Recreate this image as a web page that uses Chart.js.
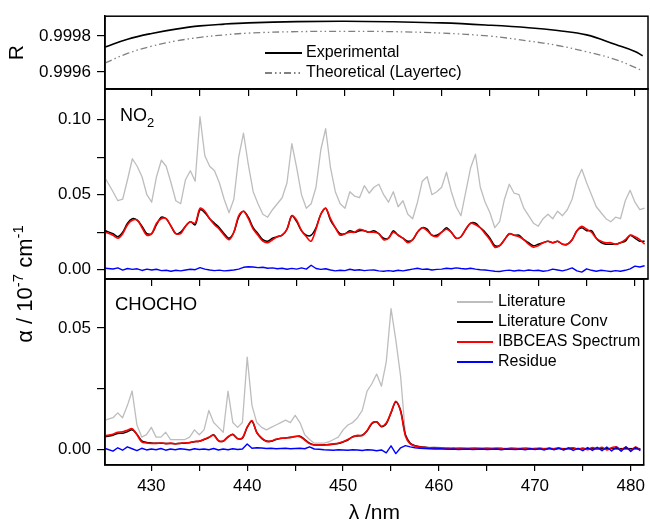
<!DOCTYPE html>
<html>
<head>
<meta charset="utf-8">
<script src="https://cdn.jsdelivr.net/npm/chart.js@4.4.1/dist/chart.umd.min.js"></script>
<style>
  html, body { margin: 0; padding: 0; background: #fff; }
  #wrap { position: relative; width: 650px; height: 529px; }
  #wrap canvas { position: absolute; left: 0; top: 0; }
</style>
</head>
<body>
<div id="wrap">
  <canvas id="cGly" width="650" height="529"></canvas>
  <canvas id="cNO2" width="650" height="529"></canvas>
  <canvas id="cR" width="650" height="529"></canvas>
</div>
<script>
const FONT = "'Liberation Sans', Arial, sans-serif";

// ---- data ----
const wavelength = [
  425.2, 426, 426.5, 427, 427.5, 428, 428.5, 429, 429.5, 430,
  430.5, 431, 431.5, 432, 432.5, 433, 433.5, 434, 434.5, 435,
  435.5, 436, 436.5, 437, 437.5, 438, 438.5, 439, 439.5, 440,
  440.5, 441, 441.5, 442, 442.5, 443, 443.5, 444, 444.5, 445,
  445.5, 446, 446.5, 447, 447.5, 448, 448.5, 449, 449.5, 450,
  450.5, 451, 451.5, 452, 452.5, 453, 453.5, 454, 454.5, 455,
  455.5, 456, 456.5, 457, 457.5, 458, 458.5, 459, 459.5, 460,
  460.5, 461, 461.5, 462, 462.5, 463, 463.5, 464, 464.5, 465,
  465.5, 466, 466.5, 467, 467.5, 468, 468.5, 469, 469.5, 470,
  470.5, 471, 471.5, 472, 472.5, 473, 473.5, 474, 474.5, 475,
  475.5, 476, 476.5, 477, 477.5, 478, 478.5, 479, 479.5, 480,
  480.5, 481
];

// mirror reflectivity
const rWavelength = [425.2, 427.5, 430, 432.5, 435, 437.5, 440, 445, 450, 455, 460, 465, 469, 472, 475, 478, 480, 480.8];
const rExperimental = [0.999739, 0.999782, 0.999814, 0.999838, 0.999856, 0.999866, 0.999873, 0.999880, 0.999882, 0.999879,
                       0.999873, 0.999860, 0.999846, 0.999830, 0.999806, 0.999752, 0.999714, 0.999690];
const rTheoretical = [0.999650, 0.999703, 0.999743, 0.999772, 0.999792, 0.999806, 0.999816, 0.999824, 0.999826, 0.999824,
                      0.999816, 0.999799, 0.999772, 0.999747, 0.999712, 0.999669, 0.999625, 0.999605];

// NO2 panel
const no2Literature = [
  0.061, 0.052, 0.046, 0.047, 0.060, 0.074, 0.069, 0.062, 0.050, 0.045,
  0.062, 0.073, 0.069, 0.058, 0.046, 0.044, 0.060, 0.066, 0.059, 0.102,
  0.076, 0.069, 0.066, 0.058, 0.047, 0.038, 0.047, 0.075, 0.091, 0.070,
  0.052, 0.044, 0.037, 0.035, 0.040, 0.044, 0.048, 0.058, 0.084, 0.068,
  0.050, 0.041, 0.044, 0.055, 0.080, 0.094, 0.068, 0.052, 0.044, 0.041,
  0.052, 0.049, 0.048, 0.056, 0.051, 0.055, 0.057, 0.050, 0.045, 0.052,
  0.042, 0.046, 0.037, 0.034, 0.045, 0.059, 0.062, 0.050, 0.052, 0.055,
  0.065, 0.052, 0.042, 0.036, 0.052, 0.068, 0.077, 0.055, 0.045, 0.038,
  0.028, 0.032, 0.047, 0.057, 0.051, 0.050, 0.041, 0.036, 0.031, 0.029,
  0.034, 0.037, 0.034, 0.039, 0.036, 0.040, 0.047, 0.060, 0.067, 0.058,
  0.050, 0.042, 0.038, 0.034, 0.032, 0.035, 0.034, 0.046, 0.053, 0.045,
  0.040, 0.041
];
const no2LiteratureConv = [
  0.026, 0.024, 0.022, 0.025, 0.031, 0.034, 0.033, 0.029, 0.024, 0.024,
  0.030, 0.035, 0.034, 0.029, 0.024, 0.025, 0.029, 0.032, 0.030, 0.040,
  0.038, 0.034, 0.031, 0.028, 0.024, 0.021, 0.025, 0.035, 0.039, 0.035,
  0.028, 0.024, 0.020, 0.019, 0.021, 0.022, 0.023, 0.027, 0.036, 0.032,
  0.026, 0.023, 0.023, 0.028, 0.037, 0.041, 0.033, 0.028, 0.024, 0.024,
  0.026, 0.025, 0.026, 0.026, 0.025, 0.026, 0.024, 0.021, 0.021, 0.026,
  0.023, 0.021, 0.019, 0.020, 0.025, 0.028, 0.027, 0.023, 0.023, 0.025,
  0.028, 0.025, 0.021, 0.022, 0.027, 0.031, 0.031, 0.028, 0.025, 0.021,
  0.016, 0.016, 0.020, 0.024, 0.023, 0.023, 0.020, 0.018, 0.016, 0.017,
  0.018, 0.019, 0.018, 0.019, 0.017, 0.017, 0.020, 0.026, 0.028, 0.026,
  0.026, 0.021, 0.018, 0.017, 0.017, 0.017, 0.018, 0.019, 0.023, 0.021,
  0.019, 0.019
];
const no2Ibbceas = [
  0.025, 0.023, 0.021, 0.024, 0.030, 0.033, 0.033, 0.028, 0.023, 0.024,
  0.031, 0.034, 0.034, 0.029, 0.024, 0.024, 0.029, 0.032, 0.031, 0.041,
  0.039, 0.034, 0.030, 0.027, 0.023, 0.020, 0.025, 0.036, 0.039, 0.034,
  0.027, 0.023, 0.019, 0.018, 0.020, 0.022, 0.023, 0.027, 0.036, 0.033,
  0.026, 0.022, 0.019, 0.027, 0.037, 0.041, 0.034, 0.028, 0.023, 0.024,
  0.025, 0.025, 0.027, 0.026, 0.025, 0.025, 0.024, 0.020, 0.021, 0.025,
  0.023, 0.021, 0.018, 0.020, 0.025, 0.028, 0.026, 0.023, 0.022, 0.025,
  0.027, 0.025, 0.021, 0.022, 0.027, 0.031, 0.030, 0.028, 0.024, 0.020,
  0.015, 0.016, 0.020, 0.024, 0.023, 0.022, 0.020, 0.017, 0.015, 0.016,
  0.018, 0.019, 0.018, 0.019, 0.017, 0.017, 0.020, 0.026, 0.029, 0.027,
  0.025, 0.021, 0.019, 0.018, 0.018, 0.017, 0.018, 0.020, 0.023, 0.022,
  0.020, 0.017
];
const no2Residue = [
  0.0010, 0.0005, 0.0012, -0.0003, 0.0008, 0.0002, 0.0006, -0.0005, 0.0004, -0.0002,
  0.0003, -0.0006, -0.0004, -0.0010, -0.0004, -0.0008, -0.0002, 0.0003, 0.0000, 0.0014,
  0.0004, -0.0002, -0.0006, -0.0003, -0.0008, -0.0005, -0.0002, 0.0004, 0.0016, 0.0020,
  0.0018, 0.0014, 0.0016, 0.0010, 0.0012, 0.0006, 0.0010, 0.0003, 0.0009, 0.0004,
  0.0012, 0.0004, 0.0030, 0.0008, 0.0002, 0.0006, -0.0002, -0.0008, -0.0004, -0.0006,
  0.0003, -0.0004, 0.0000, -0.0006, -0.0003, -0.0002, -0.0008, -0.0010, -0.0006, -0.0010,
  -0.0004, -0.0008, -0.0002, 0.0004, 0.0010, 0.0002, 0.0005, -0.0002, 0.0002, 0.0004,
  0.0010, 0.0006, 0.0012, 0.0008, 0.0005, 0.0010, 0.0004, 0.0000, -0.0002, -0.0006,
  -0.0010, -0.0012, -0.0006, -0.0003, -0.0009, -0.0004, -0.0008, -0.0002, -0.0006, -0.0004,
  -0.0010, -0.0006, 0.0004, -0.0002, -0.0008, 0.0001, 0.0012, -0.0008, -0.0016, 0.0006,
  -0.0004, -0.0010, -0.0004, -0.0008, -0.0012, -0.0006, -0.0010, -0.0004, 0.0006, 0.0024,
  0.0018, 0.0026
];

// CHOCHO panel
const glyLiterature = [
  0.012, 0.013, 0.015, 0.013, 0.018, 0.024, 0.010, 0.005, 0.006, 0.009,
  0.005, 0.005, 0.007, 0.004, 0.004, 0.004, 0.004, 0.005, 0.008, 0.006,
  0.008, 0.016, 0.011, 0.009, 0.007, 0.024, 0.011, 0.009, 0.011, 0.038,
  0.018, 0.011, 0.009, 0.008, 0.009, 0.010, 0.011, 0.012, 0.011, 0.014,
  0.011, 0.006, 0.004, 0.0025, 0.0025, 0.0025, 0.003, 0.004, 0.005, 0.008,
  0.010, 0.011, 0.013, 0.016, 0.024, 0.027, 0.031, 0.026, 0.036, 0.058,
  0.045, 0.030, 0.006, 0.0025, 0.0015, 0.0012, 0.0010, 0.0008, 0.0010, 0.0008,
  0.0006, 0.0004, 0.0005, 0.0003, 0.0005, 0.0004, 0.0003, 0.0005, 0.0004, 0.0003,
  0.0004, 0.0003, 0.0005, 0.0004, 0.0003, 0.0004, 0.0003, 0.0004, 0.0003, 0.0004,
  0.0003, 0.0004, 0.0003, 0.0003, 0.0004, 0.0003, 0.0004, 0.0003, 0.0003, 0.0004,
  0.0003, 0.0003, 0.0004, 0.0003, 0.0003, 0.0004, 0.0003, 0.0003, 0.0004, 0.0003,
  0.0003, 0.0003
];
const glyLiteratureConv = [
  0.0052, 0.0058, 0.0065, 0.0066, 0.0072, 0.0080, 0.0062, 0.0035, 0.0028, 0.0026,
  0.0025, 0.0025, 0.0024, 0.0024, 0.0023, 0.0024, 0.0025, 0.0028, 0.0031, 0.0033,
  0.0040, 0.0048, 0.0060, 0.0036, 0.0033, 0.0050, 0.0062, 0.0044, 0.0045, 0.0090,
  0.0115, 0.0070, 0.0045, 0.0034, 0.0033, 0.0040, 0.0045, 0.0046, 0.0049, 0.0052,
  0.0054, 0.0040, 0.0025, 0.0018, 0.0017, 0.0018, 0.0019, 0.0021, 0.0024, 0.0030,
  0.0038, 0.0052, 0.0055, 0.0058, 0.0075, 0.0105, 0.0113, 0.0093, 0.0105, 0.0150,
  0.0196, 0.0160, 0.0060, 0.0025, 0.0015, 0.0010, 0.0008, 0.0006, 0.0005, 0.0004,
  0.0004, 0.0003, 0.0004, 0.0003, 0.0003, 0.0003, 0.0003, 0.0003, 0.0003, 0.0003,
  0.0003, 0.0003, 0.0003, 0.0002, 0.0003, 0.0003, 0.0002, 0.0003, 0.0003, 0.0002,
  0.0003, 0.0002, 0.0003, 0.0002, 0.0003, 0.0002, 0.0002, 0.0003, 0.0002, 0.0002,
  0.0002, 0.0003, 0.0002, 0.0002, 0.0002, 0.0003, 0.0002, 0.0002, 0.0002, 0.0002,
  0.0002, 0.0002
];
const glyIbbceas = [
  0.0055, 0.0062, 0.0070, 0.0072, 0.0078, 0.0085, 0.0060, 0.0030, 0.0026, 0.0024,
  0.0024, 0.0026, 0.0023, 0.0025, 0.0022, 0.0025, 0.0026, 0.0027, 0.0032, 0.0033,
  0.0041, 0.0049, 0.0058, 0.0035, 0.0034, 0.0052, 0.0060, 0.0043, 0.0047, 0.0092,
  0.0118, 0.0068, 0.0047, 0.0032, 0.0034, 0.0041, 0.0044, 0.0047, 0.0048, 0.0053,
  0.0052, 0.0038, 0.0023, 0.0017, 0.0018, 0.0017, 0.0020, 0.0022, 0.0025, 0.0031,
  0.0040, 0.0050, 0.0057, 0.0056, 0.0077, 0.0108, 0.0112, 0.0095, 0.0108, 0.0152,
  0.0198, 0.0155, 0.0055, 0.0022, 0.0013, 0.0009, 0.0007, 0.0006, 0.0004, 0.0005,
  0.0003, 0.0004, 0.0002, 0.0004, 0.0003, 0.0002, 0.0004, 0.0003, 0.0002, 0.0004,
  0.0002, 0.0004, 0.0003, 0.0001, 0.0004, 0.0002, 0.0003, 0.0004, 0.0001, 0.0003,
  0.0004, 0.0001, 0.0004, 0.0002, 0.0005, 0.0000, 0.0004, 0.0006, 0.0000, 0.0005,
  -0.0002, 0.0007, 0.0001, 0.0008, -0.0003, 0.0006, 0.0010, -0.0002, 0.0008, -0.0004,
  0.0009, -0.0003
];
const glyResidue = [
  0.0003, -0.0008, 0.0006, -0.0004, 0.0010, 0.0002, -0.0006, 0.0004, -0.0003, 0.0001,
  -0.0002, 0.0003, -0.0004, 0.0001, -0.0002, 0.0002, 0.0000, -0.0003, 0.0002, -0.0001,
  0.0001, -0.0002, 0.0003, -0.0003, 0.0001, -0.0002, 0.0002, -0.0001, 0.0001, 0.0022,
  0.0004, 0.0006, 0.0005, 0.0003, 0.0004, 0.0002, 0.0003, 0.0004, 0.0002, 0.0003,
  0.0004, 0.0002, 0.0010, 0.0001, 0.0000, -0.0002, -0.0003, -0.0004, -0.0002, -0.0003,
  -0.0004, -0.0002, -0.0003, -0.0005, -0.0002, -0.0003, -0.0006, -0.0003, -0.0015, 0.0014,
  -0.0018, 0.0006, 0.0015, 0.0010, 0.0006, 0.0004, 0.0003, 0.0002, 0.0001, 0.0002,
  0.0001, 0.0000, 0.0001, -0.0001, 0.0000, 0.0001, -0.0001, 0.0000, 0.0001, -0.0001,
  0.0000, 0.0001, -0.0002, 0.0001, 0.0000, -0.0001, 0.0001, -0.0002, 0.0002, -0.0001,
  0.0002, -0.0003, 0.0004, -0.0002, 0.0005, -0.0004, 0.0006, -0.0005, 0.0004, -0.0006,
  0.0007, -0.0005, 0.0008, -0.0006, 0.0009, -0.0007, 0.0008, -0.0008, 0.0010, -0.0009,
  0.0008, -0.0006
];

// ---- frame ----
const W = 650, H = 529;
const LEFT = 105, RIGHT = 648;
const X_MIN = 425.17, X_MAX = 481.35;

function pts(xs, ys) {
  return xs.map((x, i) => ({ x, y: ys[i] }));
}

function drawRich(ctx, t) {
  ctx.save();
  ctx.translate(t.x, t.y);
  if (t.rotate) ctx.rotate(t.rotate);
  ctx.fillStyle = '#000';
  ctx.textBaseline = 'alphabetic';
  ctx.textAlign = 'left';
  let total = 0;
  t.parts.forEach(p => { ctx.font = p.size + 'px ' + FONT; total += ctx.measureText(p.text).width; });
  let x = t.center ? -total / 2 : 0;
  t.parts.forEach(p => {
    ctx.font = p.size + 'px ' + FONT;
    ctx.fillText(p.text, x, p.dy || 0);
    x += ctx.measureText(p.text).width;
  });
  ctx.restore();
}

// box around the plot, in-plot legend and labels
const panelDecor = {
  id: 'panelDecor',
  afterDraw(chart, args, opts) {
    const { ctx, chartArea: a } = chart;
    ctx.save();
    ctx.strokeStyle = '#000';
    ctx.lineWidth = 1.5;
    ctx.strokeRect(a.left, a.top, a.right - a.left, a.bottom - a.top);

    const L = opts.legend;
    if (L) {
      chart.data.datasets.forEach((ds, i) => {
        const y = L.rows[i];
        ctx.save();
        ctx.strokeStyle = ds.borderColor;
        ctx.lineWidth = L.lineWidth;
        ctx.setLineDash(ds.borderDash || []);
        ctx.beginPath();
        ctx.moveTo(L.x0, y);
        ctx.lineTo(L.x1, y);
        ctx.stroke();
        ctx.restore();
        ctx.fillStyle = '#000';
        ctx.font = L.size + 'px ' + FONT;
        ctx.textBaseline = 'middle';
        ctx.textAlign = 'left';
        ctx.fillText(ds.label, L.tx, y);
      });
    }
    (opts.texts || []).forEach(t => drawRich(ctx, t));
    ctx.restore();
  }
};

const hundredths = v => (Math.round(v * 1000) % 50 === 0 ? v.toFixed(2) : '');

function panel(canvasId, top, bottom, datasets, o) {
  return new Chart(document.getElementById(canvasId), {
    type: 'line',
    data: { datasets },
    options: {
      responsive: false,
      animation: false,
      events: [],
      devicePixelRatio: 1,
      layout: { padding: { left: 0, right: W - RIGHT, top: top, bottom: H - bottom - o.xHeight } },
      elements: { point: { radius: 0 }, line: { tension: o.tension || 0, borderJoinStyle: 'round' } },
      scales: {
        x: {
          type: 'linear',
          min: X_MIN, max: X_MAX,
          border: { color: '#000', width: 1.5 },
          grid: { drawOnChartArea: false, drawTicks: true, tickLength: o.xTick, color: '#000', lineWidth: 1.2 },
          ticks: {
            display: !!o.xLabels,
            stepSize: 5,
            includeBounds: false,
            autoSkip: false,
            maxRotation: 0,
            padding: 5,
            color: '#000',
            font: { family: FONT, size: 17 },
            callback: v => (v % 10 === 0 ? String(v) : '')
          },
          title: o.xTitle || { display: false },
          afterFit: s => { s.height = o.xHeight; }
        },
        y: {
          min: o.yMin, max: o.yMax,
          border: { color: '#000', width: 1.5 },
          grid: { drawOnChartArea: false, drawTicks: true, tickLength: 8, color: '#000', lineWidth: 1.2 },
          ticks: {
            stepSize: o.yStep,
            includeBounds: false,
            padding: 6,
            color: '#000',
            font: { family: FONT, size: 17 },
            callback: o.yFormat
          },
          title: o.yTitle || { display: false },
          afterFit: s => { s.width = LEFT; }
        }
      },
      plugins: {
        legend: { display: false },
        tooltip: { enabled: false },
        panelDecor: o.decor || {}
      }
    },
    plugins: [panelDecor]
  });
}

function spectra(lit, conv, ibb, res) {
  return [
    { label: 'Literature', data: pts(wavelength, lit), borderColor: '#bdbdbd', borderWidth: 1.3, order: 3 },
    { label: 'Literature Conv', data: pts(wavelength, conv), borderColor: '#000000', borderWidth: 1.5, tension: 0.3, order: 2 },
    { label: 'IBBCEAS Spectrum', data: pts(wavelength, ibb), borderColor: '#ff0000', borderWidth: 1.6, tension: 0.3, order: 1 },
    { label: 'Residue', data: pts(wavelength, res), borderColor: '#0000ff', borderWidth: 1.4, order: 0 }
  ];
}

// reflectivity panel
panel('cR', 7, 89, [
  { label: 'Experimental', data: pts(rWavelength, rExperimental), borderColor: '#000000', borderWidth: 1.6 },
  { label: 'Theoretical (Layertec)', data: pts(rWavelength, rTheoretical), borderColor: '#808080', borderWidth: 1.3,
    borderDash: [7, 3, 1.5, 3, 1.5, 3] }
], {
  xHeight: 8, xTick: 7, tension: 0.4,
  yMin: 0.999505, yMax: 0.99991, yStep: 0.0002,
  yFormat: v => v.toFixed(4),
  yTitle: { display: true, text: 'R', color: '#000', font: { family: FONT, size: 21 }, padding: { top: 5, bottom: 0 } },
  decor: { legend: { x0: 265, x1: 302, tx: 306, rows: [53, 73], size: 16, lineWidth: 1.8 } }
});

// NO2 panel
panel('cNO2', 89, 279, spectra(no2Literature, no2LiteratureConv, no2Ibbceas, no2Residue), {
  xHeight: 8, xTick: 7,
  yMin: -0.0062, yMax: 0.1205, yStep: 0.025,
  yFormat: hundredths,
  decor: {
    texts: [{ x: 120, y: 121, parts: [{ text: 'NO', size: 18 }, { text: '2', size: 13, dy: 6 }] }]
  }
});

// CHOCHO panel
panel('cGly', 279, 465, spectra(glyLiterature, glyLiteratureConv, glyIbbceas, glyResidue), {
  xHeight: 64, xTick: 6, xLabels: true,
  xTitle: { display: true, text: 'λ /nm', color: '#000', font: { family: FONT, size: 21 }, padding: { top: 0, bottom: 3 } },
  yMin: -0.0065, yMax: 0.0702, yStep: 0.025,
  yFormat: hundredths,
  decor: {
    legend: { x0: 457, x1: 493, tx: 498, rows: [302, 322, 342, 362], size: 16, lineWidth: 2 },
    texts: [
      { x: 115, y: 310, parts: [{ text: 'CHOCHO', size: 18.5 }] },
      { x: 32, y: 284, rotate: -Math.PI / 2, center: true,
        parts: [{ text: 'α / 10', size: 22 }, { text: '-7', size: 15, dy: -9 }, { text: ' cm', size: 22 }, { text: '-1', size: 15, dy: -9 }] }
    ]
  }
});
</script>
</body>
</html>
